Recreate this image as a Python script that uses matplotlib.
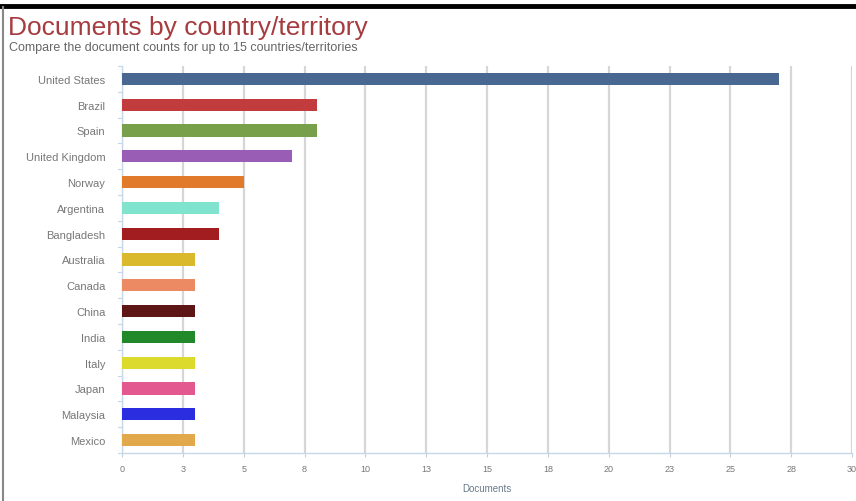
import matplotlib.pyplot as plt
from matplotlib.lines import Line2D

plt.rcParams['font.family'] = ['Liberation Sans', 'DejaVu Sans']

countries = ['United States', 'Brazil', 'Spain', 'United Kingdom', 'Norway',
             'Argentina', 'Bangladesh', 'Australia', 'Canada', 'China',
             'India', 'Italy', 'Japan', 'Malaysia', 'Mexico']
documents = [27, 8, 8, 7, 5, 4, 4, 3, 3, 3, 3, 3, 3, 3, 3]
bar_colors = ['#496891', '#c23b3d', '#78a04b', '#9a5db6', '#e27a2b',
              '#7fe3cd', '#a21d1f', '#dbb92c', '#ec8b63', '#5e1516',
              '#22892a', '#dcdb2d', '#e3598f', '#2b2ee0', '#e2a94c']
x_ticks = [0, 2.5, 5, 7.5, 10, 12.5, 15, 17.5, 20, 22.5, 25, 27.5, 30]
x_tick_labels = ['0', '3', '5', '8', '10', '13', '15', '18', '20', '23', '25', '28', '30']

fig = plt.figure(figsize=(8.56, 5.02), dpi=100)
ax = fig.add_axes([122 / 856, 1 - 454 / 502, 730 / 856, 387 / 502])

y = list(range(len(countries)))
ax.barh(y, documents, height=0.47, color=bar_colors, zorder=3)
ax.set_ylim(len(countries) - 0.5, -0.5)
ax.set_xlim(0, 30)

ax.set_xticks(x_ticks)
ax.set_xticklabels(x_tick_labels, fontsize=6.5, color='#777777')
ax.set_yticks(y)
ax.set_yticklabels(countries, fontsize=8, color='#777777')
ax.tick_params(axis='y', length=0, pad=12)
ax.tick_params(axis='x', length=3, color='#c0d0e0', pad=5)

ax.grid(axis='x', color='#d6d6d6', linewidth=1.6, zorder=0)
for s in ['top', 'right']:
    ax.spines[s].set_visible(False)
for s in ['left', 'bottom']:
    ax.spines[s].set_color('#c8d8e8')
    ax.spines[s].set_linewidth(1.0)

# small category ticks on the left axis
for b in [i - 0.5 for i in range(len(countries) + 1)]:
    ax.plot([-0.15, 0], [b, b], color='#c8d8e8', lw=0.8, clip_on=False, zorder=4)

ax.set_xlabel('Documents', fontsize=7, color='#6a7a8a', labelpad=7)

fig.text(8 / 856, 1 - 35 / 502, 'Documents by country/territory',
         fontsize=19, color='#a53c3f')
fig.text(9 / 856, 1 - 51 / 502,
         'Compare the document counts for up to 15 countries/territories',
         fontsize=9, color='#666666')

# page frame: heavy top rule and thin left edge
fig.add_artist(Line2D([0, 1], [1 - 6.5 / 502] * 2, color='black', lw=3.5,
                      transform=fig.transFigure))
fig.add_artist(Line2D([3.5 / 856] * 2, [0, 1 - 8 / 502], color='#888888', lw=1.5,
                      transform=fig.transFigure))

fig.savefig('out.png', dpi=100)
